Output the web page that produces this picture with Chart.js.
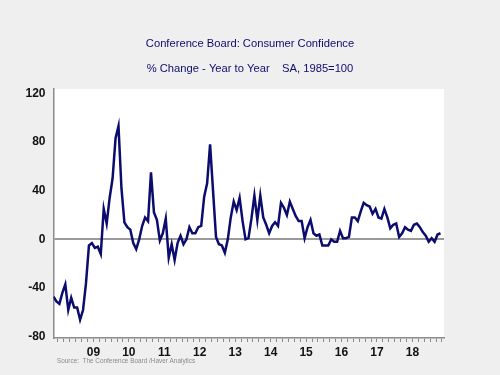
<!DOCTYPE html>
<html>
<head>
<meta charset="utf-8">
<script src="https://cdn.jsdelivr.net/npm/chart.js@4/dist/chart.umd.min.js"></script>
<style>
  html, body { margin: 0; padding: 0; background: #efefef; }
  canvas { display: block; }
</style>
</head>
<body>
<canvas id="cc-chart" width="500" height="375"></canvas>
<script>
// ── Conference Board: Consumer Confidence, % change y/y (monthly) ───────────
const START_YEAR  = 2008;
const START_MONTH = 5;        // May 2008 is the first observation

// May 2008 .. Apr 2019
const yoyChange = [
  -47, -51, -53, -44, -37, -58, -48, -56,                    // 2008 May-Dec
  -56, -66, -58, -36,  -5,  -3,  -7,  -6, -12,  25,  13,  34, // 2009
   50,  83,  93,  42,  14,  10,   8,  -3,  -8,   0,  11,  18, // 2010
   15,  55,  22,  16,  -1,   5,  17, -15,  -4, -17,  -3,   3, // 2011
   -4,   0,  10,   5,   5,  10,  11,  35,  46,  78,  40,   2, // 2012
   -4,  -5, -11,   0,  18,  31,  24,  34,  15,   0,   1,  17, // 2013
   36,  16,  36,  18,  12,   5,  11,  14,  11,  30,  26,  20, // 2014
   31,  25,  19,  15,  15,   1,  10,  16,   5,   3,   4,  -5, // 2015
   -5,  -5,   0,  -2,  -2,   7,   1,   1,   2,  18,  18,  15, // 2016
   23,  30,  28,  27,  21,  25,  18,  17,  25,  18,   9,  12, // 2017
   13,   2,   5,  10,   8,   7,  12,  13,  10,   6,   3,  -2, // 2018
    1,  -2,   4,   5,                                         // 2019 Jan-Apr
];

const yTicks      = [-80, -40, 0, 40, 80, 120];
const labelYears  = [2009, 2010, 2011, 2012, 2013, 2014, 2015, 2016, 2017, 2018];
const labelText   = ['09', '10', '11', '12', '13', '14', '15', '16', '17', '18'];

const TITLE    = 'Conference Board: Consumer Confidence';
const SUBTITLE = '% Change - Year to Year    SA, 1985=100';
const SOURCE   = 'Source:  The Conference Board /Haver Analytics';

const NAVY = '#0c0c6e';
const AXIS = '#8c8c8c';
const FONT = '"Liberation Sans", Arial, sans-serif';

// monthly points sit mid-month on a decimal-year axis
const points = yoyChange.map((v, i) => ({
  x: START_YEAR + (START_MONTH - 1 + i + 0.5) / 12,
  y: v,
}));

const X_MIN = START_YEAR + (START_MONTH - 1 + 0.5) / 12;
const X_MAX = 2019.39;

// tick every two months, labels at mid-year
function _xTicks() {
  const out = [];
  for (let k = Math.ceil(X_MIN * 6); k <= Math.floor(X_MAX * 6); k++) out.push({ value: k / 6 });
  return out;
}

function _xLabel(v) {
  const yr = Math.floor(v);
  if (Math.abs(v - yr - 0.5) > 1e-6) return '';
  const idx = labelYears.indexOf(yr);
  return idx >= 0 ? labelText[idx] : '';
}

const plotBg = {
  id: 'plotBg',
  beforeDraw(chart) {
    const { ctx, chartArea: a } = chart;
    ctx.save();
    ctx.fillStyle = '#ffffff';
    ctx.fillRect(a.left, a.top, a.right - a.left, a.bottom - a.top);
    ctx.restore();
  },
};

const sourceNote = {
  id: 'sourceNote',
  afterDraw(chart) {
    const { ctx } = chart;
    ctx.save();
    ctx.font = '6.4px ' + FONT;
    ctx.fillStyle = '#8a8a8a';
    ctx.textBaseline = 'middle';
    ctx.fillText(SOURCE, 57, 361);
    ctx.restore();
  },
};

new Chart(document.getElementById('cc-chart'), {
  type: 'line',
  data: {
    datasets: [{
      label:           'Consumer Confidence',
      data:            points,
      borderColor:     NAVY,
      backgroundColor: 'transparent',
      borderWidth:     2.5,
      pointRadius:     0,
      tension:         0,
    }],
  },
  options: {
    responsive: false,
    devicePixelRatio: 1,
    animation: false,
    layout: { padding: 0 },
    plugins: {
      legend:  { display: false },
      tooltip: { enabled: false },
      title: {
        display: true, text: TITLE, color: NAVY,
        font: { family: FONT, size: 11.2, weight: 'normal' },
        padding: { top: 37.6, bottom: 11.5 },
      },
      subtitle: {
        display: true, text: SUBTITLE, color: NAVY,
        font: { family: FONT, size: 11.2, weight: 'normal' },
        padding: { top: 0, bottom: 13 },
      },
    },
    scales: {
      x: {
        type: 'linear',
        min: X_MIN, max: X_MAX,
        afterBuildTicks: s => { s.ticks = _xTicks(); },
        afterFit: s => { s.height = 37; },
        grid: { drawOnChartArea: false, drawTicks: true, tickLength: 4, color: AXIS, tickColor: AXIS },
        border: { display: true, color: AXIS, width: 1.5 },
        ticks: {
          autoSkip: false, maxRotation: 0, padding: 3,
          color: '#111', font: { family: FONT, size: 12, weight: 'bold' },
          callback: v => _xLabel(v),
        },
      },
      y: {
        min: -81, max: 123.5,
        afterBuildTicks: s => { s.ticks = yTicks.map(v => ({ value: v })); },
        afterFit: s => { s.width = 53.5; },
        grid: {
          drawTicks: false,
          color: c => (c.tick && c.tick.value === 0 ? '#9a9a9a' : 'transparent'),
          lineWidth: 2,
        },
        border: { display: true, color: AXIS, width: 1.5 },
        ticks: {
          padding: 8, color: '#111',
          font: { family: FONT, size: 12, weight: 'bold' },
        },
      },
      // empty right-hand gutter so the titles stay centred on the page
      gutter: {
        type: 'linear', position: 'right',
        afterFit: s => { s.width = 56; },
        grid: { display: false },
        border: { display: false },
        ticks: { display: false },
      },
    },
  },
  plugins: [plotBg, sourceNote],
});
</script>
</body>
</html>
